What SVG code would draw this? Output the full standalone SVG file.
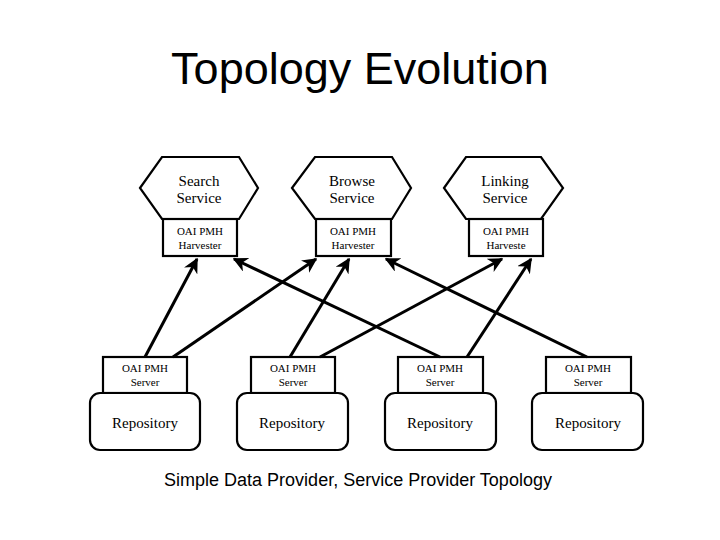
<svg xmlns="http://www.w3.org/2000/svg" width="720" height="540" viewBox="0 0 720 540">
<style>
.title{font-family:"Liberation Sans",Arial,sans-serif;font-size:45px;fill:#000}
.cap{font-family:"Liberation Sans",Arial,sans-serif;font-size:18px;fill:#000}
.lbl{font-family:"Liberation Serif","Times New Roman",serif;font-size:15px;fill:#000;text-anchor:middle}
.sm{font-family:"Liberation Serif","Times New Roman",serif;font-size:11px;fill:#000;text-anchor:middle}
.shape{fill:#fff;stroke:#000;stroke-width:2.2}
.edge{stroke:#000;stroke-width:3;fill:none;marker-end:url(#ah)}
</style>
<defs>
<marker id="ah" viewBox="0 0 10 10" refX="9" refY="5" markerWidth="5" markerHeight="5" orient="auto" markerUnits="strokeWidth">
<path d="M0,0 L10,5 L0,10 L3,5 Z" fill="#000"/>
</marker>
</defs>
<rect width="720" height="540" fill="#fff"/>
<text class="title" x="360" y="84" text-anchor="middle">Topology Evolution</text>

<g id="search">
<polygon class="shape" points="140,188 162,157 239,157 258,188 239,219 162,219"/>
<text class="lbl" x="199" y="186">Search</text>
<text class="lbl" x="199" y="203">Service</text>
<rect class="shape" x="163" y="219" width="74" height="37"/>
<text class="sm" x="200" y="235">OAI PMH</text>
<text class="sm" x="200" y="249">Harvester</text>
</g>
<g id="browse">
<polygon class="shape" points="292,188 315,157 392,157 411,188 392,219 315,219"/>
<text class="lbl" x="352" y="186">Browse</text>
<text class="lbl" x="352" y="203">Service</text>
<rect class="shape" x="316" y="219" width="75" height="37"/>
<text class="sm" x="353" y="235">OAI PMH</text>
<text class="sm" x="353" y="249">Harvester</text>
</g>
<g id="linking">
<polygon class="shape" points="444,188 466,157 541,157 563,188 541,219 466,219"/>
<text class="lbl" x="505" y="186">Linking</text>
<text class="lbl" x="505" y="203">Service</text>
<rect class="shape" x="469" y="219" width="74" height="37"/>
<text class="sm" x="506" y="235">OAI PMH</text>
<text class="sm" x="506" y="249">Harveste</text>
</g>

<g id="repo1">
<rect class="shape" x="103" y="357" width="84" height="36"/>
<text class="sm" x="145" y="372">OAI PMH</text>
<text class="sm" x="145" y="386">Server</text>
<rect class="shape" x="90" y="393" width="110" height="57" rx="10"/>
<text class="lbl" x="145" y="428">Repository</text>
</g>
<g id="repo2">
<rect class="shape" x="251" y="357" width="84" height="36"/>
<text class="sm" x="293" y="372">OAI PMH</text>
<text class="sm" x="293" y="386">Server</text>
<rect class="shape" x="237" y="393" width="111" height="57" rx="10"/>
<text class="lbl" x="292" y="428">Repository</text>
</g>
<g id="repo3">
<rect class="shape" x="398" y="357" width="85" height="36"/>
<text class="sm" x="440" y="372">OAI PMH</text>
<text class="sm" x="440" y="386">Server</text>
<rect class="shape" x="385" y="393" width="111" height="57" rx="10"/>
<text class="lbl" x="440" y="428">Repository</text>
</g>
<g id="repo4">
<rect class="shape" x="546" y="357" width="85" height="36"/>
<text class="sm" x="588" y="372">OAI PMH</text>
<text class="sm" x="588" y="386">Server</text>
<rect class="shape" x="532" y="393" width="111" height="57" rx="10"/>
<text class="lbl" x="588" y="428">Repository</text>
</g>

<g id="connectors">
<line class="edge" x1="145" y1="357" x2="197" y2="259"/>
<line class="edge" x1="173" y1="357" x2="316" y2="259"/>
<line class="edge" x1="290" y1="357" x2="349" y2="259"/>
<line class="edge" x1="320" y1="357" x2="502" y2="259"/>
<line class="edge" x1="440" y1="357" x2="234" y2="259"/>
<line class="edge" x1="467" y1="357" x2="531" y2="259"/>
<line class="edge" x1="587" y1="357" x2="386" y2="259"/>
</g>

<text class="cap" x="358" y="486" text-anchor="middle">Simple Data Provider, Service Provider Topology</text>
</svg>
